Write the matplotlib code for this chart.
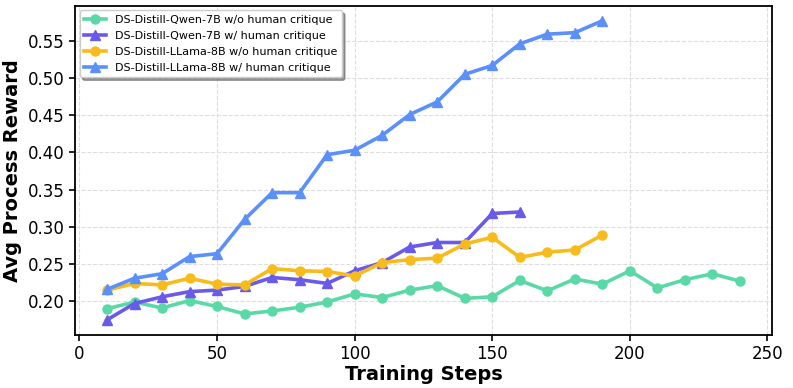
import matplotlib
matplotlib.use('Agg')
import matplotlib.pyplot as plt

# ---- data ----
steps_qwen_wo = [10, 20, 30, 40, 50, 60, 70, 80, 90, 100, 110, 120, 130, 140, 150, 160,
                 170, 180, 190, 200, 210, 220, 230, 240]
qwen_wo = [0.190, 0.199, 0.191, 0.201, 0.193, 0.183, 0.187, 0.192, 0.199, 0.210, 0.205, 0.215,
           0.221, 0.204, 0.206, 0.228, 0.214, 0.230, 0.223, 0.241, 0.218, 0.229, 0.237, 0.227]

steps_qwen_w = [10, 20, 30, 40, 50, 60, 70, 80, 90, 100, 110, 120, 130, 140, 150, 160]
qwen_w = [0.175, 0.197, 0.206, 0.213, 0.215, 0.220, 0.232, 0.229, 0.224, 0.241, 0.252, 0.273,
          0.279, 0.279, 0.318, 0.320]

steps_llama = [10, 20, 30, 40, 50, 60, 70, 80, 90, 100, 110, 120, 130, 140, 150, 160,
               170, 180, 190]
llama_wo = [0.215, 0.224, 0.222, 0.231, 0.223, 0.222, 0.244, 0.241, 0.240, 0.234, 0.252, 0.256,
            0.258, 0.277, 0.286, 0.259, 0.266, 0.269, 0.289]
llama_w = [0.216, 0.231, 0.237, 0.260, 0.264, 0.310, 0.346, 0.346, 0.397, 0.403, 0.423, 0.451,
           0.468, 0.505, 0.517, 0.546, 0.559, 0.561, 0.577]

labels = ["DS-Distill-Qwen-7B w/o human critique",
          "DS-Distill-Qwen-7B w/ human critique",
          "DS-Distill-LLama-8B w/o human critique",
          "DS-Distill-LLama-8B w/ human critique"]
colors = ["#5AD8A6", "#6A5AEA", "#F7BC1C", "#5B8FF9"]
markers = ["o", "^", "o", "^"]

plt.rcParams['font.family'] = ['DejaVu Sans']

fig = plt.figure(figsize=(7.93, 3.88), dpi=100)
ax = fig.add_axes([0.095, 0.137, 0.878, 0.848])

series = [(steps_qwen_wo, qwen_wo), (steps_qwen_w, qwen_w),
          (steps_llama, llama_wo), (steps_llama, llama_w)]
for (xs, ys), lab, c, m in zip(series, labels, colors, markers):
    ax.plot(xs, ys, color=c, marker=m, linewidth=2.6, markersize=6.5, label=lab)

ax.grid(True, linestyle='--', color='#dddddd', linewidth=0.8)
ax.set_axisbelow(True)
for s in ax.spines.values():
    s.set_linewidth(1.3)
ax.tick_params(labelsize=12, width=1.2, length=4)
ax.set_xlabel("Training Steps", fontsize=14, fontweight='bold', labelpad=1)
ax.set_ylabel("Avg Process Reward", fontsize=14, fontweight='bold')

ax.legend(loc='upper left', fontsize=8, shadow=True, framealpha=1,
          borderaxespad=0.4, handlelength=2, labelspacing=0.55)

fig.savefig("out.png", dpi=100, facecolor='white')
